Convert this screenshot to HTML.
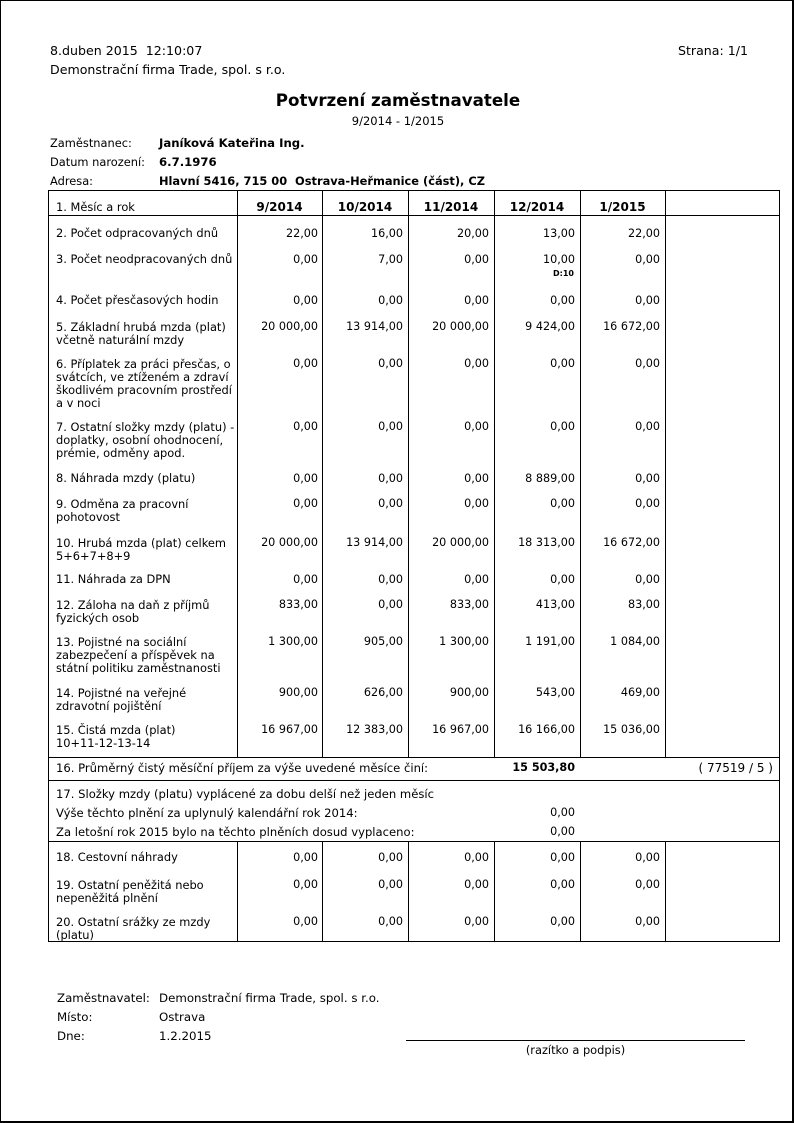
<!DOCTYPE html>
<html><head><meta charset="utf-8"><style>
body{margin:0;width:794px;height:1123px;background:#fff;position:relative;font-family:"DejaVu Sans","Liberation Sans",sans-serif;font-size:11.4px;color:#000;overflow:hidden}
.f{position:absolute;left:0;top:0;width:791px;height:1120px;border:1px solid #000;border-right:2px solid #000;border-bottom:2px solid #000}
.t{position:absolute;white-space:nowrap;line-height:14px}
.r{position:absolute;text-align:right;white-space:nowrap;line-height:14px;font-size:11.2px}
.b{font-weight:bold}
.h{position:absolute;height:1px;background:#000}
.v{position:absolute;width:1px;background:#000}
.l{position:absolute;left:56px;line-height:13px;width:182px;top:0}
</style></head><body>
<div class="f"></div>
<div class="t" style="left:50px;top:44px;font-size:12.6px">8.duben 2015&nbsp;&nbsp;12:10:07</div>
<div class="r" style="right:46px;top:44px;font-size:12.6px">Strana: 1/1</div>
<div class="t" style="left:50px;top:63px;font-size:12.6px">Demonstrační firma Trade, spol. s r.o.</div>
<div class="t b" style="left:0;width:796px;text-align:center;top:90px;font-size:16.7px;line-height:20px">Potvrzení zaměstnavatele</div>
<div class="t" style="left:0;width:796px;text-align:center;top:114px;font-size:11.5px">9/2014 - 1/2015</div>
<div class="t" style="left:50px;top:136px">Zaměstnanec:</div><div class="t b" style="left:159px;top:136px;font-size:11.7px">Janíková Kateřina Ing.</div>
<div class="t" style="left:50px;top:155px">Datum narození:</div><div class="t b" style="left:159px;top:155px;font-size:11.7px">6.7.1976</div>
<div class="t" style="left:50px;top:174px">Adresa:</div><div class="t b" style="left:159px;top:174px">Hlavní 5416, 715 00&nbsp; Ostrava-Heřmanice (část), CZ</div>

<div class="h" style="left:48px;width:732px;top:190px"></div>
<div class="h" style="left:48px;width:732px;top:215px"></div>
<div class="h" style="left:48px;width:732px;top:757px"></div>
<div class="h" style="left:48px;width:732px;top:780px"></div>
<div class="h" style="left:48px;width:732px;top:841px"></div>
<div class="h" style="left:48px;width:732px;top:941px"></div>
<div class="v" style="left:48px;top:190px;height:752px"></div>
<div class="v" style="left:779px;top:190px;height:752px"></div>
<div class="v" style="left:237px;top:190px;height:567px"></div>
<div class="v" style="left:322px;top:190px;height:567px"></div>
<div class="v" style="left:408px;top:190px;height:567px"></div>
<div class="v" style="left:494px;top:190px;height:567px"></div>
<div class="v" style="left:580px;top:190px;height:567px"></div>
<div class="v" style="left:665px;top:190px;height:567px"></div>
<div class="v" style="left:237px;top:841px;height:100px"></div>
<div class="v" style="left:322px;top:841px;height:100px"></div>
<div class="v" style="left:408px;top:841px;height:100px"></div>
<div class="v" style="left:494px;top:841px;height:100px"></div>
<div class="v" style="left:580px;top:841px;height:100px"></div>
<div class="v" style="left:665px;top:841px;height:100px"></div>

<div class="t" style="left:56px;top:200px">1. Měsíc a rok</div>
<div class="t b" style="left:237px;width:85px;text-align:center;top:200px;font-size:12px">9/2014</div>
<div class="t b" style="left:322px;width:86px;text-align:center;top:200px;font-size:12px">10/2014</div>
<div class="t b" style="left:408px;width:86px;text-align:center;top:200px;font-size:12px">11/2014</div>
<div class="t b" style="left:494px;width:86px;text-align:center;top:200px;font-size:12px">12/2014</div>
<div class="t b" style="left:580px;width:85px;text-align:center;top:200px;font-size:12px">1/2015</div>

<div class="l" style="top:227px">2. Počet odpracovaných dnů</div>
<div class="r" style="right:476px;top:227px">22,00</div><div class="r" style="right:391px;top:227px">16,00</div><div class="r" style="right:305px;top:227px">20,00</div><div class="r" style="right:219px;top:227px">13,00</div><div class="r" style="right:134px;top:227px">22,00</div>

<div class="l" style="top:253px">3. Počet neodpracovaných dnů</div>
<div class="r" style="right:476px;top:253px">0,00</div><div class="r" style="right:391px;top:253px">7,00</div><div class="r" style="right:305px;top:253px">0,00</div><div class="r" style="right:219px;top:253px">10,00</div><div class="r" style="right:134px;top:253px">0,00</div>
<div class="r b" style="right:220px;top:269px;font-size:8px;line-height:10px">D:10</div>

<div class="l" style="top:294px">4. Počet přesčasových hodin</div>
<div class="r" style="right:476px;top:294px">0,00</div><div class="r" style="right:391px;top:294px">0,00</div><div class="r" style="right:305px;top:294px">0,00</div><div class="r" style="right:219px;top:294px">0,00</div><div class="r" style="right:134px;top:294px">0,00</div>

<div class="l" style="top:321px">5. Základní hrubá mzda (plat) včetně naturální mzdy</div>
<div class="r" style="right:476px;top:320px">20 000,00</div><div class="r" style="right:391px;top:320px">13 914,00</div><div class="r" style="right:305px;top:320px">20 000,00</div><div class="r" style="right:219px;top:320px">9 424,00</div><div class="r" style="right:134px;top:320px">16 672,00</div>

<div class="l" style="top:358px">6. Příplatek za práci přesčas, o svátcích, ve ztíženém a zdraví škodlivém pracovním prostředí a v noci</div>
<div class="r" style="right:476px;top:357px">0,00</div><div class="r" style="right:391px;top:357px">0,00</div><div class="r" style="right:305px;top:357px">0,00</div><div class="r" style="right:219px;top:357px">0,00</div><div class="r" style="right:134px;top:357px">0,00</div>

<div class="l" style="top:421px">7. Ostatní složky mzdy (platu) - doplatky, osobní ohodnocení, prémie, odměny apod.</div>
<div class="r" style="right:476px;top:420px">0,00</div><div class="r" style="right:391px;top:420px">0,00</div><div class="r" style="right:305px;top:420px">0,00</div><div class="r" style="right:219px;top:420px">0,00</div><div class="r" style="right:134px;top:420px">0,00</div>

<div class="l" style="top:472px">8. Náhrada mzdy (platu)</div>
<div class="r" style="right:476px;top:472px">0,00</div><div class="r" style="right:391px;top:472px">0,00</div><div class="r" style="right:305px;top:472px">0,00</div><div class="r" style="right:219px;top:472px">8 889,00</div><div class="r" style="right:134px;top:472px">0,00</div>

<div class="l" style="top:498px">9. Odměna za pracovní<br>pohotovost</div>
<div class="r" style="right:476px;top:497px">0,00</div><div class="r" style="right:391px;top:497px">0,00</div><div class="r" style="right:305px;top:497px">0,00</div><div class="r" style="right:219px;top:497px">0,00</div><div class="r" style="right:134px;top:497px">0,00</div>

<div class="l" style="top:537px">10. Hrubá mzda (plat) celkem 5+6+7+8+9</div>
<div class="r" style="right:476px;top:536px">20 000,00</div><div class="r" style="right:391px;top:536px">13 914,00</div><div class="r" style="right:305px;top:536px">20 000,00</div><div class="r" style="right:219px;top:536px">18 313,00</div><div class="r" style="right:134px;top:536px">16 672,00</div>

<div class="l" style="top:573px">11. Náhrada za DPN</div>
<div class="r" style="right:476px;top:573px">0,00</div><div class="r" style="right:391px;top:573px">0,00</div><div class="r" style="right:305px;top:573px">0,00</div><div class="r" style="right:219px;top:573px">0,00</div><div class="r" style="right:134px;top:573px">0,00</div>

<div class="l" style="top:599px">12. Záloha na daň z příjmů fyzických osob</div>
<div class="r" style="right:476px;top:598px">833,00</div><div class="r" style="right:391px;top:598px">0,00</div><div class="r" style="right:305px;top:598px">833,00</div><div class="r" style="right:219px;top:598px">413,00</div><div class="r" style="right:134px;top:598px">83,00</div>

<div class="l" style="top:636px">13. Pojistné na sociální<br>zabezpečení a příspěvek na<br>státní politiku zaměstnanosti</div>
<div class="r" style="right:476px;top:635px">1 300,00</div><div class="r" style="right:391px;top:635px">905,00</div><div class="r" style="right:305px;top:635px">1 300,00</div><div class="r" style="right:219px;top:635px">1 191,00</div><div class="r" style="right:134px;top:635px">1 084,00</div>

<div class="l" style="top:687px">14. Pojistné na veřejné<br>zdravotní pojištění</div>
<div class="r" style="right:476px;top:686px">900,00</div><div class="r" style="right:391px;top:686px">626,00</div><div class="r" style="right:305px;top:686px">900,00</div><div class="r" style="right:219px;top:686px">543,00</div><div class="r" style="right:134px;top:686px">469,00</div>

<div class="l" style="top:724px">15. Čistá mzda (plat)<br>10+11-12-13-14</div>
<div class="r" style="right:476px;top:723px">16 967,00</div><div class="r" style="right:391px;top:723px">12 383,00</div><div class="r" style="right:305px;top:723px">16 967,00</div><div class="r" style="right:219px;top:723px">16 166,00</div><div class="r" style="right:134px;top:723px">15 036,00</div>

<div class="t" style="left:56px;top:761px;font-size:11.6px">16. Průměrný čistý měsíční příjem za výše uvedené měsíce činí:</div>
<div class="r b" style="right:219px;top:761px;font-size:11.2px">15 503,80</div>
<div class="r" style="right:21px;top:761px;font-size:12px">( 77519 / 5 )</div>

<div class="t" style="left:56px;top:787px;font-size:11.6px">17. Složky mzdy (platu) vyplácené za dobu delší než jeden měsíc</div>
<div class="t" style="left:56px;top:806px;font-size:11.6px">Výše těchto plnění za uplynulý kalendářní rok 2014:</div>
<div class="r" style="right:219px;top:806px">0,00</div>
<div class="t" style="left:56px;top:825px;font-size:11.6px">Za letošní rok 2015 bylo na těchto plněních dosud vyplaceno:</div>
<div class="r" style="right:219px;top:825px">0,00</div>

<div class="l" style="top:851px">18. Cestovní náhrady</div>
<div class="r" style="right:476px;top:851px">0,00</div><div class="r" style="right:391px;top:851px">0,00</div><div class="r" style="right:305px;top:851px">0,00</div><div class="r" style="right:219px;top:851px">0,00</div><div class="r" style="right:134px;top:851px">0,00</div>

<div class="l" style="top:879px">19. Ostatní peněžitá nebo<br>nepeněžitá plnění</div>
<div class="r" style="right:476px;top:878px">0,00</div><div class="r" style="right:391px;top:878px">0,00</div><div class="r" style="right:305px;top:878px">0,00</div><div class="r" style="right:219px;top:878px">0,00</div><div class="r" style="right:134px;top:878px">0,00</div>

<div class="l" style="top:916px">20. Ostatní srážky ze mzdy<br>(platu)</div>
<div class="r" style="right:476px;top:915px">0,00</div><div class="r" style="right:391px;top:915px">0,00</div><div class="r" style="right:305px;top:915px">0,00</div><div class="r" style="right:219px;top:915px">0,00</div><div class="r" style="right:134px;top:915px">0,00</div>

<div class="t" style="left:57px;top:991px;font-size:11.8px">Zaměstnavatel:</div><div class="t" style="left:159px;top:991px;font-size:11.8px">Demonstrační firma Trade, spol. s r.o.</div>
<div class="t" style="left:57px;top:1010px;font-size:11.8px">Místo:</div><div class="t" style="left:159px;top:1010px;font-size:11.8px">Ostrava</div>
<div class="t" style="left:57px;top:1029px;font-size:11.8px">Dne:</div><div class="t" style="left:159px;top:1029px;font-size:11.8px">1.2.2015</div>
<div class="h" style="left:406px;width:339px;top:1040px"></div>
<div class="t" style="left:406px;width:339px;text-align:center;top:1043px">(razítko a podpis)</div>
</body></html>
